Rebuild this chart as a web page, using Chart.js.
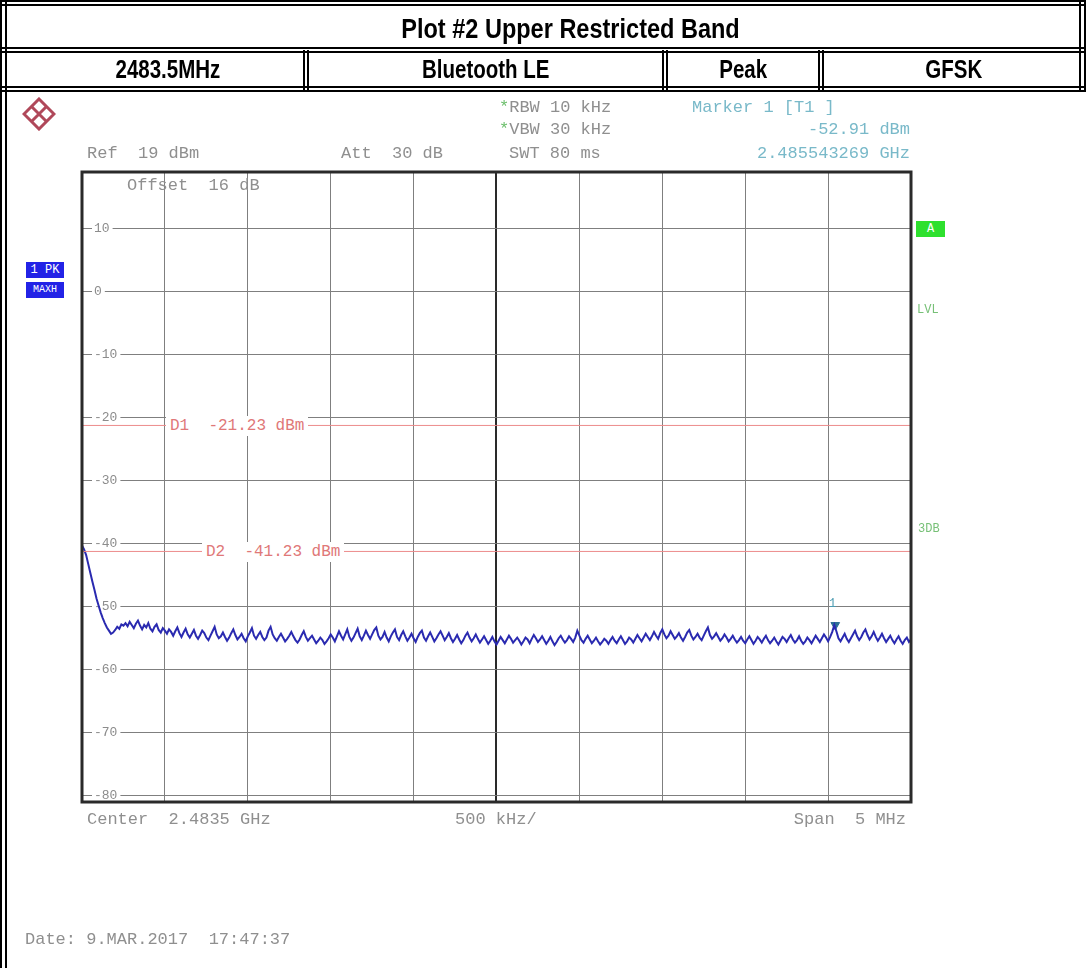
<!DOCTYPE html>
<html>
<head>
<meta charset="utf-8">
<script src="https://cdn.jsdelivr.net/npm/chart.js"></script>
<style>
  body { margin: 0; background: #fff; }
  #page { position: relative; width: 1086px; height: 968px; overflow: hidden; background: #fff; }
  #chart { position: absolute; left: 0; top: 0; }
  .rule { position: absolute; box-sizing: border-box; border-color: #000; border-style: double; border-width: 0; }
  .hdr { position: absolute; text-align: center; font-family: "Liberation Sans", Arial, sans-serif; font-weight: bold; color: #000; }
  .hdr span { display: inline-block; transform: scaleX(0.82); }
  .t { position: absolute; white-space: pre; font-family: "Liberation Mono", "DejaVu Sans Mono", monospace; font-size: 17px; line-height: 20px; color: #8f8f8f; }
  .box { position: absolute; white-space: pre; font-family: "Liberation Mono", monospace; font-size: 12px; line-height: 16px; text-align: center; color: #fff; }
</style>
</head>
<body>
<div id="page">
  <canvas id="chart" width="1086" height="968"></canvas>

  <!-- document frame and header table -->
  <div class="rule" style="left:0;top:0;width:7px;height:968px;border-left-width:7px;"></div>
  <div class="rule" style="left:0;top:0;width:1086px;height:6px;border-top-width:6px;"></div>
  <div class="rule" style="left:1079px;top:0;width:7px;height:92px;border-left-width:7px;"></div>
  <div class="rule" style="left:0;top:47px;width:1086px;height:6px;border-top-width:6px;"></div>
  <div class="rule" style="left:0;top:86px;width:1086px;height:6px;border-top-width:6px;"></div>
  <div class="rule" style="left:303px;top:50px;width:6px;height:40px;border-left-width:6px;"></div>
  <div class="rule" style="left:662px;top:50px;width:6px;height:40px;border-left-width:6px;"></div>
  <div class="rule" style="left:818px;top:50px;width:6px;height:40px;border-left-width:6px;"></div>

  <div class="hdr" style="left:50px;width:1040px;top:12px;font-size:28px;line-height:34px;"><span style="transform:scaleX(0.84)">Plot #2 Upper Restricted Band</span></div>
  <div class="hdr" style="left:20px;width:296px;top:53px;font-size:25px;line-height:32px;"><span>2483.5MHz</span></div>
  <div class="hdr" style="left:309px;width:353px;top:53px;font-size:25px;line-height:32px;"><span>Bluetooth LE</span></div>
  <div class="hdr" style="left:668px;width:150px;top:53px;font-size:25px;line-height:32px;"><span>Peak</span></div>
  <div class="hdr" style="left:826px;width:255px;top:53px;font-size:25px;line-height:32px;"><span>GFSK</span></div>

  <!-- R&S logo -->
  <svg style="position:absolute;left:22px;top:97px" width="34" height="34" viewBox="0 0 34 34">
    <g fill="none" stroke="#b0485a" stroke-width="3">
      <path d="M17 2 L32 17 L17 32 L2 17 Z"/>
      <path d="M9 9 L25 25 M25 9 L9 25"/>
    </g>
  </svg>

  <!-- analyzer annotation -->
  <div class="t" style="left:499px;top:98px;"><span style="color:#6cbf6c">*</span>RBW 10 kHz</div>
  <div class="t" style="left:499px;top:120px;"><span style="color:#6cbf6c">*</span>VBW 30 kHz</div>
  <div class="t" style="left:509px;top:144px;">SWT 80 ms</div>
  <div class="t" style="left:87px;top:144px;">Ref  19 dBm</div>
  <div class="t" style="left:341px;top:144px;">Att  30 dB</div>
  <div class="t" style="left:692px;top:98px;color:#79b9c9;">Marker 1 [T1 ]</div>
  <div class="t" style="right:176px;top:120px;color:#79b9c9;">-52.91 dBm</div>
  <div class="t" style="right:176px;top:144px;color:#79b9c9;">2.485543269 GHz</div>
  <div class="t" style="left:127px;top:176px;">Offset  16 dB</div>

  <div class="box" style="left:26px;top:262px;width:38px;background:#2323e6;">1 PK</div>
  <div class="box" style="left:26px;top:282px;width:38px;background:#2323e6;font-size:10px;">MAXH</div>
  <div class="box" style="left:916px;top:221px;width:29px;background:#2ee02e;">A</div>
  <div class="t" style="left:917px;top:300px;font-size:12px;color:#77c077;">LVL</div>
  <div class="t" style="left:918px;top:519px;font-size:12px;color:#77c077;">3DB</div>

  <div class="t" style="left:166px;top:416px;font-size:16px;color:#e07878;background:#fff;padding:0 4px;">D1  -21.23 dBm</div>
  <div class="t" style="left:202px;top:542px;font-size:16px;color:#e07878;background:#fff;padding:0 4px;">D2  -41.23 dBm</div>
  <div class="t" style="left:829px;top:594px;font-size:12px;color:#4a9ab0;">1</div>

  <div class="t" style="left:87px;top:810px;">Center  2.4835 GHz</div>
  <div class="t" style="left:455px;top:810px;">500 kHz/</div>
  <div class="t" style="right:180px;top:810px;">Span  5 MHz</div>
  <div class="t" style="left:25px;top:930px;">Date: 9.MAR.2017  17:47:37</div>
</div>

<script>
// Sweep settings (GHz) and display range (dBm)
const FREQ_START = 2.481;
const FREQ_STOP = 2.486;
const FREQ_CENTER = 2.4835;
const REF_LEVEL = 19;
const BOTTOM_LEVEL = -81;

// grid divisions
const X_GRID = [2.481, 2.4815, 2.482, 2.4825, 2.483, 2.4835, 2.484, 2.4845, 2.485, 2.4855, 2.486];
const Y_TICKS = [10, 0, -10, -20, -30, -40, -50, -60, -70, -80];

// display lines
const DLINE_NAMES = ['D1', 'D2'];
const DLINE_LEVELS = [-21.23, -41.23];

// marker 1
const MARKER_FREQ = 2.485543269;
const MARKER_LEVEL = -52.91;

// max-hold trace, sweep points (dBm), left to right
const TRACE_DBM = [
  -40.3, -40.9, -41.8, -43.2, -44.6, -46.0, -47.3, -48.7, -49.8, -50.9,
  -51.8, -52.6, -53.3, -53.8, -54.3, -54.1, -53.7, -53.2, -53.5, -52.8,
  -53.0, -52.6, -53.1, -52.4, -52.9, -53.4, -52.7, -52.2, -53.0, -53.6,
  -52.9, -53.3, -52.6, -53.5, -53.9, -53.2, -52.8, -53.7, -54.1, -53.4,
  -53.8, -54.3, -53.6, -54.0, -54.6, -53.9, -53.3, -54.2, -54.8, -54.1,
  -53.5, -54.4, -54.9, -54.3, -53.7, -54.6, -55.1, -54.5, -53.8, -54.2,
  -54.9, -55.3, -54.6, -53.9, -53.2, -54.4, -55.0, -54.7, -54.1, -54.8,
  -55.4, -54.9, -54.2, -53.6, -54.5, -55.2, -54.8, -54.3, -55.0, -55.5,
  -54.7, -54.1, -53.4, -54.6, -55.1, -54.5, -54.0, -54.8, -55.3, -54.9,
  -53.8, -53.2, -54.4, -55.0, -55.4, -54.8, -54.3, -54.9, -55.5, -55.1,
  -54.6, -54.0, -54.7, -55.3, -55.7, -55.2, -54.5, -53.9, -54.8, -55.4,
  -55.0, -54.6, -55.2, -55.8, -55.4, -54.9, -55.3, -55.9, -55.5, -55.0,
  -54.4, -54.9, -55.5, -54.7, -53.9, -54.6, -55.2, -54.4, -53.6, -54.8,
  -55.4, -54.9, -54.2, -53.5, -54.7, -55.3, -54.6, -53.8, -54.5, -55.1,
  -54.4, -53.7, -53.3, -54.6, -55.2, -54.8, -54.0, -54.9, -55.5, -54.7,
  -54.1, -53.6, -54.8, -55.3, -54.5, -53.9, -54.7, -55.4, -54.9, -54.3,
  -55.0, -55.6, -54.8, -54.2, -53.8, -54.9, -55.4, -54.7, -54.1, -54.8,
  -55.5, -55.0, -54.4, -53.9, -54.6, -55.3, -54.8, -54.2, -55.0, -55.6,
  -55.1, -54.5, -55.2, -55.8, -55.3, -54.6, -54.1, -54.9, -55.5, -55.0,
  -54.4, -55.1, -55.7, -55.2, -54.7, -55.3, -55.9, -55.4, -54.8, -55.5,
  -56.0, -55.4, -54.8, -55.3, -55.8, -55.2, -54.6, -55.1, -55.7, -55.3,
  -54.9, -55.4, -56.0, -55.5, -54.9, -55.2, -55.8, -55.1, -54.5, -55.0,
  -55.6, -55.2, -54.7, -55.3, -55.9, -55.4, -54.8, -55.5, -56.1, -55.6,
  -55.0, -54.6, -55.2, -55.7, -55.3, -54.7, -55.1, -55.6, -54.9, -53.8,
  -54.6, -55.3, -55.7, -55.1, -54.6, -55.2, -55.8, -55.4, -54.9, -55.5,
  -56.0, -55.6, -55.1, -55.4, -55.9, -55.3, -54.8, -55.4, -55.8, -55.2,
  -54.7, -55.3, -55.9, -55.5, -54.9, -55.2, -55.7, -55.1, -54.5, -55.0,
  -55.5, -54.9, -54.3, -54.8, -55.3, -54.7, -54.0, -54.6, -55.1, -54.2,
  -53.6, -54.4, -55.0, -54.6, -53.9, -54.5, -55.1, -54.7, -54.2, -54.9,
  -55.4, -54.8, -54.1, -53.7, -54.6, -55.2, -54.8, -54.3, -54.9, -55.3,
  -54.6, -53.9, -53.3, -54.5, -55.1, -54.7, -54.2, -54.8, -55.4, -55.0,
  -54.4, -54.9, -55.5, -55.1, -54.6, -55.2, -55.7, -55.3, -54.8, -55.4,
  -55.8, -55.2, -54.7, -55.3, -55.9, -55.4, -54.8, -55.2, -55.7, -55.1,
  -54.6, -55.3, -55.8, -55.4, -54.9, -55.5, -56.0, -55.4, -54.8, -55.1,
  -55.6, -55.0, -54.5, -55.2, -55.7, -55.3, -54.7, -55.4, -55.9, -55.5,
  -54.9, -55.3, -55.8, -55.2, -54.6, -55.1, -55.6, -55.0, -54.4, -54.9,
  -55.5, -54.8, -54.0, -52.9, -53.9, -55.0, -55.5, -54.9, -54.3, -55.1,
  -55.6, -55.0, -54.4, -53.8, -54.7, -55.3, -54.8, -54.1, -53.6, -54.5,
  -55.2, -54.7, -54.0, -54.8, -55.4, -54.9, -54.3, -55.0, -55.6, -55.1,
  -54.6, -55.3, -55.8, -55.2, -54.7, -55.4, -55.9, -55.3, -54.9, -55.6,
  -55.2
];

const tracePoints = TRACE_DBM.map((v, i) => ({
  x: FREQ_START + i * (FREQ_STOP - FREQ_START) / (TRACE_DBM.length - 1),
  y: v
}));

const dlineSets = DLINE_LEVELS.map((lvl, i) => ({
  label: DLINE_NAMES[i],
  data: [{ x: FREQ_START, y: lvl }, { x: FREQ_STOP, y: lvl }],
  borderColor: '#ec8c8c',
  borderWidth: 1,
  pointRadius: 0,
  fill: false
}));

// frame round the grid
const framePlugin = {
  id: 'frame',
  afterDraw(chart) {
    const a = chart.chartArea;
    const ctx = chart.ctx;
    ctx.save();
    ctx.strokeStyle = '#2a2a2a';
    ctx.lineWidth = 3;
    ctx.strokeRect(a.left, a.top, a.right - a.left, a.bottom - a.top);
    ctx.restore();
  }
};

const isCenter = c => Math.abs(c.tick.value - FREQ_CENTER) < 1e-7;

new Chart(document.getElementById('chart'), {
  type: 'line',
  data: {
    datasets: [
      ...dlineSets,
      {
        label: 'Trace 1',
        data: tracePoints,
        borderColor: '#2a2ab0',
        borderWidth: 2,
        pointRadius: 0,
        tension: 0,
        fill: false
      },
      {
        label: 'Marker 1',
        data: [{ x: MARKER_FREQ, y: MARKER_LEVEL }],
        showLine: false,
        pointStyle: 'triangle',
        rotation: 180,
        pointRadius: 5,
        backgroundColor: '#2d6f96',
        borderColor: '#2d6f96'
      }
    ]
  },
  options: {
    responsive: false,
    animation: false,
    layout: { padding: { left: 82, right: 175, top: 172, bottom: 166 } },
    plugins: { legend: { display: false }, tooltip: { enabled: false } },
    scales: {
      x: {
        type: 'linear',
        min: FREQ_START,
        max: FREQ_STOP,
        afterBuildTicks: s => { s.ticks = X_GRID.map(v => ({ value: v })); },
        afterFit: s => { s.height = 0; },
        border: { display: false },
        ticks: { display: false },
        grid: {
          drawTicks: false,
          color: c => isCenter(c) ? '#2a2a2a' : '#7f7f7f',
          lineWidth: c => isCenter(c) ? 2 : 1
        }
      },
      y: {
        min: BOTTOM_LEVEL,
        max: REF_LEVEL,
        afterBuildTicks: s => { s.ticks = Y_TICKS.map(v => ({ value: v })); },
        afterFit: s => { s.width = 0; },
        border: { display: false },
        grid: { drawTicks: false, color: '#7f7f7f', lineWidth: 1 },
        ticks: {
          mirror: true,
          padding: 12,
          color: '#8c8c8c',
          font: { family: 'Liberation Mono', size: 13 },
          showLabelBackdrop: true,
          backdropColor: '#fff',
          backdropPadding: { left: 2, right: 3, top: 0, bottom: 0 }
        }
      }
    }
  },
  plugins: [framePlugin]
});
</script>
</body>
</html>
